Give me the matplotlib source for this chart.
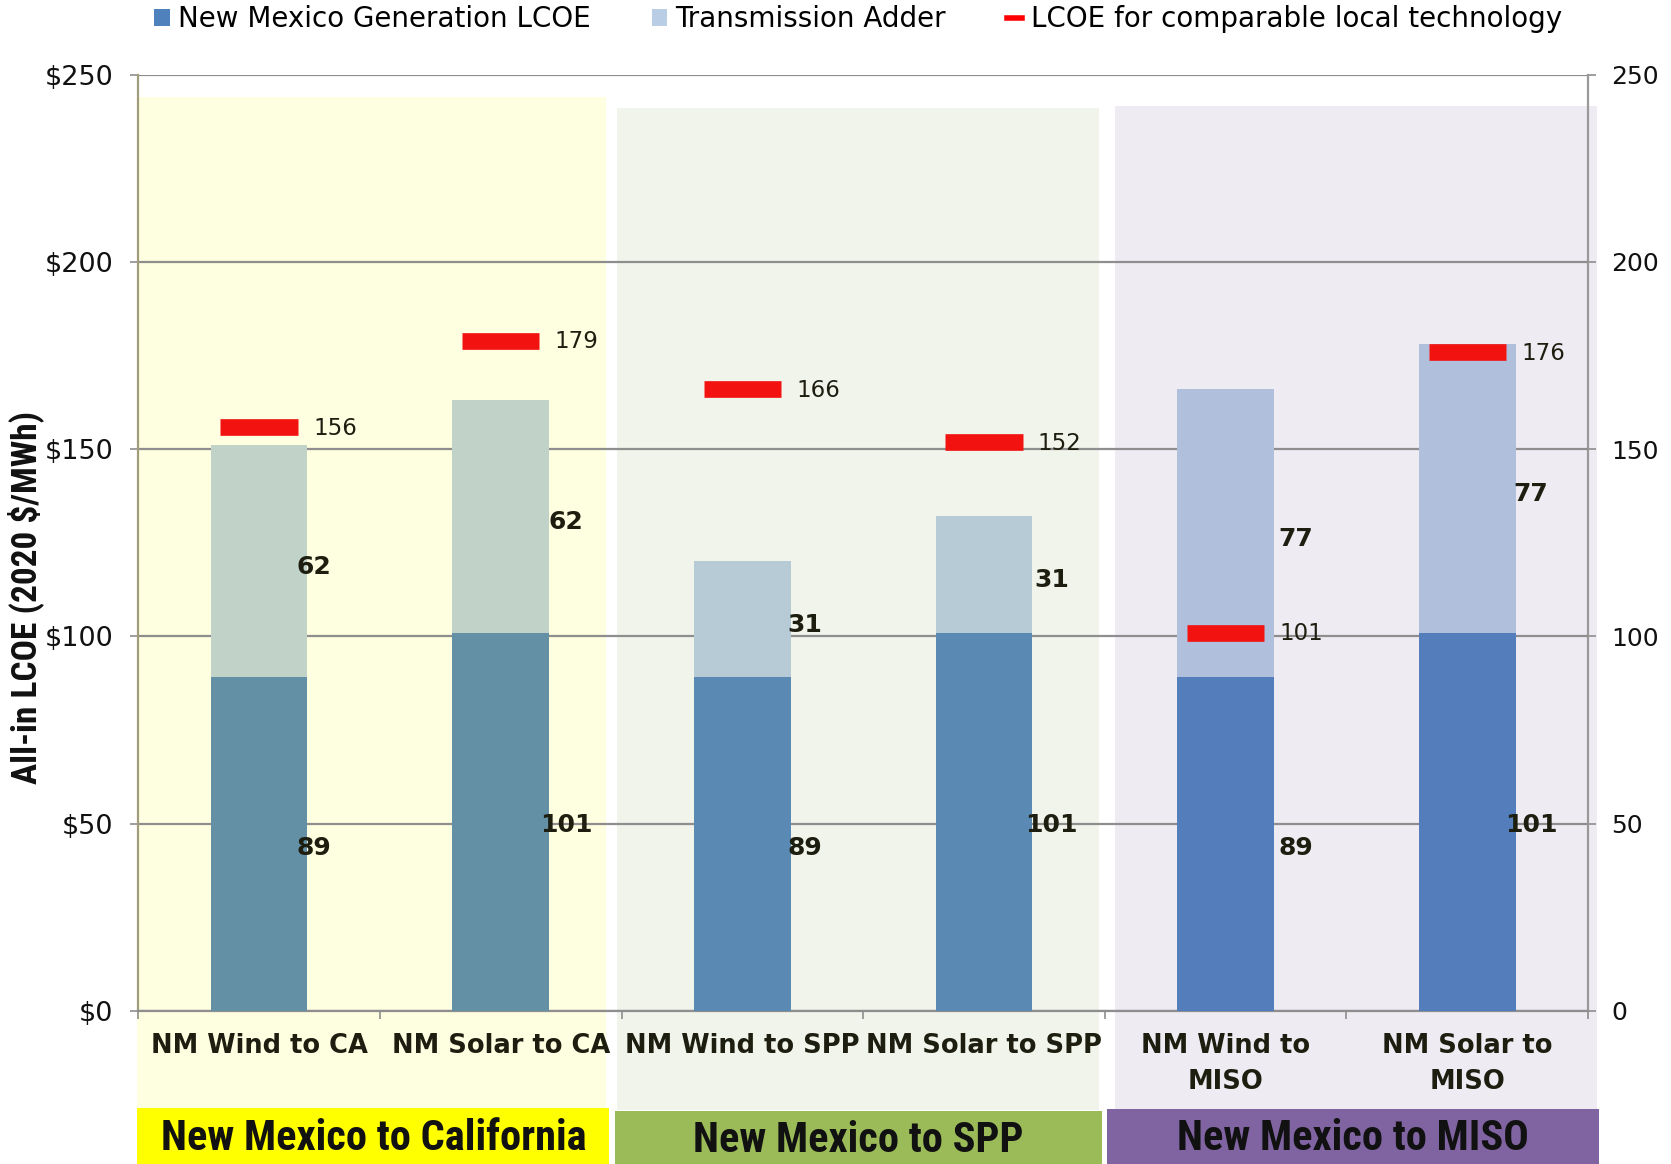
import matplotlib
matplotlib.use("Agg")
import matplotlib.pyplot as plt
from matplotlib import font_manager
from matplotlib.patches import Rectangle, Patch
from matplotlib.lines import Line2D
import matplotlib.transforms as mtransforms

# ---------------- data ----------------
categories = ["NM Wind to CA", "NM Solar to CA", "NM Wind to SPP", "NM Solar to SPP",
              "NM Wind to\nMISO", "NM Solar to\nMISO"]
generation_lcoe = [89, 101, 89, 101, 89, 101]
transmission_adder = [62, 62, 31, 31, 77, 77]
local_lcoe = [156, 179, 166, 152, 101, 176]
groups = ["New Mexico to California", "New Mexico to SPP", "New Mexico to MISO"]
y_ticks = [0, 50, 100, 150, 200, 250]
left_tick_labels = ["$0", "$50", "$100", "$150", "$200", "$250"]
right_tick_labels = ["0", "50", "100", "150", "200", "250"]

# ---------------- styles ----------------
gen_colors = ["#6490A6", "#6490A6", "#5A8AB3", "#5A8AB3", "#547EBB", "#547EBB"]
trans_colors = ["#C1D2C9", "#C1D2C9", "#B6CBD5", "#B6CBD5", "#B0C0DC", "#B0C0DC"]
red = "#F2120F"
panel_colors = ["#FEFEE0", "#F0F4EA", "#EEEBF2"]
box_colors = ["#FFFF00", "#9BBB59", "#8064A2"]
text_dark = "#1E1E10"
label_dx = [0.225, 0.27, 0.26, 0.28, 0.29, 0.265]

avail = {f.name for f in font_manager.fontManager.ttflist}
cond = None
for c in ["Roboto Condensed", "DejaVu Sans Condensed", "Liberation Sans Narrow", "Open Sans Condensed"]:
    if c in avail:
        cond = c
        break
base_font = "DejaVu Sans"
cond_font = cond if cond else "DejaVu Sans"

plt.rcParams["font.family"] = [base_font]

W, H = 1671, 1164
fig = plt.figure(figsize=(W / 100, H / 100), dpi=100)
fig.patch.set_facecolor("white")

ax_l, ax_r, ax_t, ax_b = 138.3, 1588.0, 74.7, 1010.7
ax = fig.add_axes([ax_l / W, 1 - ax_b / H, (ax_r - ax_l) / W, (ax_b - ax_t) / H])
ax.set_facecolor("none")
ax.set_zorder(2)

x = list(range(len(categories)))
ax.set_xlim(-0.5, len(categories) - 0.5)
ax.set_ylim(0, 250)

# panels (x in data units, y in figure fraction)
trans_fig = mtransforms.blended_transform_factory(ax.transData, fig.transFigure)
panel_x = [(-0.504, 1.435), (1.481, 3.476), (3.543, 5.536)]
panel_top = [97.3, 107.7, 106.0]
panel_bot = [1108.0, 1110.0, 1109.0]
box_x = [(-0.504, 1.45), (1.473, 3.490), (3.51, 5.545)]
box_top = [1108.0, 1111.0, 1109.0]
box_text_y = [1138, 1141, 1138]
for i in range(3):
    x0, x1 = panel_x[i]
    r = Rectangle((x0, 1 - panel_bot[i] / H), x1 - x0, (panel_bot[i] - panel_top[i]) / H,
                  transform=trans_fig, facecolor=panel_colors[i], edgecolor="none",
                  clip_on=False, zorder=0)
    fig.patches.append(r)
    bx0, bx1 = box_x[i]
    rb = Rectangle((bx0, 0), bx1 - bx0, 1 - box_top[i] / H,
                   transform=trans_fig, facecolor=box_colors[i], edgecolor="none",
                   clip_on=False, zorder=0)
    fig.patches.append(rb)
    fig.text((bx0 + bx1) / 2, 1 - box_text_y[i] / H, groups[i], transform=trans_fig,
             ha="center", va="center", fontsize=30.5, fontweight="bold",
             family=cond_font, color="#111111")

# grid
for v in y_ticks:
    ax.axhline(v, color="#8E8E8E", lw=1.6, zorder=1)

bar_w = 0.40
ax.bar(x, generation_lcoe, width=bar_w, color=gen_colors, zorder=3)
ax.bar(x, transmission_adder, bottom=generation_lcoe, width=bar_w, color=trans_colors, zorder=3)

# local LCOE markers
mark_w = 0.32
ax.hlines(local_lcoe, [xi - mark_w / 2 for xi in x], [xi + mark_w / 2 for xi in x],
          colors=red, lw=12, zorder=4, capstyle="butt")
for xi, v in zip(x, local_lcoe):
    ax.annotate(str(v), (xi + mark_w / 2, v), xytext=(11, -1), textcoords="offset points",
                ha="left", va="center", fontsize=16.5, color=text_dark, zorder=5)

# stacked value labels
for xi, g, t, dx in zip(x, generation_lcoe, transmission_adder, label_dx):
    ax.text(xi + dx, g / 2 - 1, str(g), ha="center", va="center", fontsize=18,
            fontweight="bold", color=text_dark, zorder=5)
    ax.text(xi + dx, g + t / 2 - 1.5, str(t), ha="center", va="center", fontsize=18,
            fontweight="bold", color=text_dark, zorder=5)

# axes styling
ax.spines["top"].set_visible(False)
ax.spines["right"].set_visible(False)
ax.spines["left"].set_color("#A09C7C")
ax.spines["left"].set_linewidth(1.6)
ax.spines["bottom"].set_color("#8E8E8E")
ax.spines["bottom"].set_linewidth(1.6)

ax.set_yticks(y_ticks)
ax.set_yticklabels(left_tick_labels)
ax.tick_params(axis="y", direction="out", length=6, width=1.2, color="#8E8E8E",
               labelsize=19.5, pad=12, labelcolor="#111111")

ax.set_xticks([i - 0.5 for i in range(len(categories) + 1)])
ax.set_xticklabels([])
ax.set_xticks(x, minor=True)
ax.set_xticklabels(categories, minor=True, fontsize=18.5, fontweight="bold",
                   color=text_dark, linespacing=1.5)
ax.tick_params(axis="x", which="major", direction="out", length=6, width=1.2, color="#8E8E8E")
ax.tick_params(axis="x", which="minor", length=0, pad=16)
for lbl in ax.get_xticklabels(minor=True):
    lbl.set_verticalalignment("top")

ax2 = ax.twinx()
ax2.set_ylim(0, 250)
ax2.set_yticks(y_ticks)
ax2.set_yticklabels(right_tick_labels)
ax2.tick_params(axis="y", direction="out", length=6, width=1.2, color="#8E8E8E",
                labelsize=18, pad=11, labelcolor="#111111")
for s in ["top", "left", "bottom"]:
    ax2.spines[s].set_visible(False)
ax2.spines["right"].set_color("#9A9A9A")
ax2.spines["right"].set_linewidth(1.6)
ax2.set_zorder(1)

fig.text(25.6 / W, 1 - 597 / H, "All-in LCOE (2020 $/MWh)", rotation=90, ha="center",
         va="center", fontsize=25.5, fontweight="bold", family=cond_font, color="#111111")

handles = [Patch(facecolor="#4F81BD", edgecolor="none"),
           Patch(facecolor="#B9CDE5", edgecolor="none"),
           Line2D([0], [0], color="#FF0000", lw=4)]
labels = ["New Mexico Generation LCOE", "Transmission Adder", "LCOE for comparable local technology"]
fig.legend(handles, labels, loc="center", bbox_to_anchor=(858 / W, 1 - 19 / H), ncol=3,
           frameon=False, handlelength=0.55, handleheight=0.55,
           handletextpad=0.3, columnspacing=2.2, borderpad=0,
           prop={"family": base_font, "size": 20})

fig.savefig("out.png", dpi=100, facecolor="white")
